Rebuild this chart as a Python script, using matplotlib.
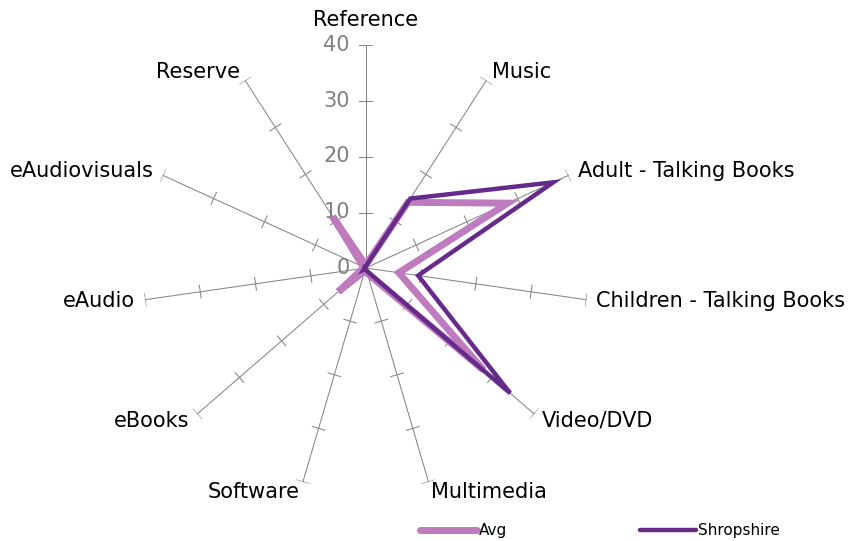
import numpy as np
import matplotlib
matplotlib.use("Agg")
import matplotlib.pyplot as plt

plt.rcParams["font.family"] = ["DejaVu Sans"]

categories = ["Reference", "Music", "Adult - Talking Books", "Children - Talking Books",
              "Video/DVD", "Multimedia", "Software", "eBooks", "eAudio",
              "eAudiovisuals", "Reserve"]
avg = [0.5, 14, 28, 6, 28, 1, 0.5, 6.5, 0.5, 0.5, 11]
shropshire = [0.3, 14.8, 37, 9.5, 34.3, 0.5, 0.2, 0.5, 0.2, 0.2, 0.3]
ticks = [0, 10, 20, 30, 40]

avg_col = "#BE7CBE"
shrop_col = "#652A8A"
axis_col = "#868686"

R_PX = 223.0  # radius of the 40 ring in pixels

fig = plt.figure(figsize=(8.57, 5.41), dpi=100)
ax = fig.add_axes([142.7 / 857, 50 / 541, 2 * R_PX / 857, 2 * R_PX / 541], projection="polar")
ax.set_theta_zero_location("N")
ax.set_theta_direction(-1)
ax.set_ylim(0, 40)
ax.axis("off")

n = len(categories)
theta = np.arange(n) * 2 * np.pi / n

# spokes with small cross ticks
for t in theta:
    ax.plot([t, t], [0, 40], color=axis_col, lw=0.75, zorder=1)
    for v in ticks[1:]:
        d = 6.5 / (v * R_PX / 40)
        ax.plot([t - d, t + d], [v, v], color=axis_col, lw=0.75, zorder=1)

# value labels on the first axis
for v in ticks:
    ax.annotate(str(v), xy=(0, v), xytext=(-16, 0), textcoords="offset pixels",
                ha="right", va="center", fontsize=15, color="#808080")

# category labels
for t, c in zip(theta, categories):
    s, co = np.sin(t), np.cos(t)
    if abs(s) < 0.05:
        ha = "center"
    elif s > 0:
        ha = "left"
    else:
        ha = "right"
    dx, dy = 10 * s, 10 * co
    if c == "Reference":
        dy = 25
    ax.annotate(c, xy=(t, 40), xytext=(dx, dy), textcoords="offset pixels",
                ha=ha, va="center", fontsize=15, color="black")

tt = np.append(theta, theta[0])
ax.plot(tt, avg + avg[:1], color=avg_col, lw=5, solid_joinstyle="miter",
        solid_capstyle="round", label="Avg", zorder=3)
ax.plot(tt, shropshire + shropshire[:1], color=shrop_col, lw=3.2, solid_joinstyle="miter",
        solid_capstyle="round", label="Shropshire", zorder=4)

fig.legend(loc="center", bbox_to_anchor=(600 / 857, 10 / 541), ncol=2, frameon=False,
           fontsize=11, handlelength=3.7, handletextpad=0.1, columnspacing=8.7)

fig.savefig("out.png", dpi=100)
